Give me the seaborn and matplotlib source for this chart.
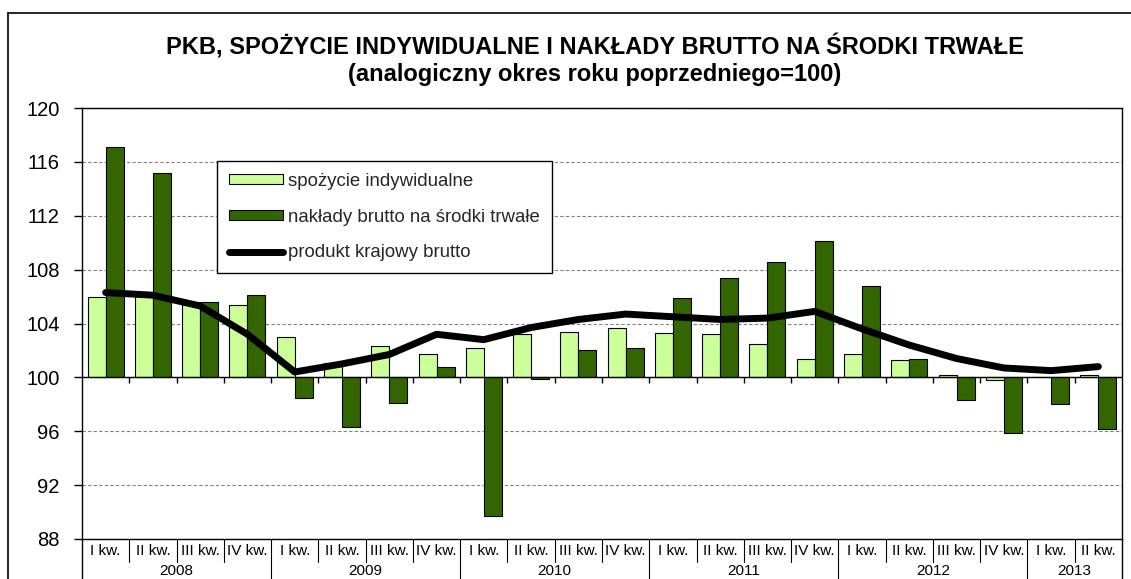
import numpy as np
import pandas as pd
import matplotlib
matplotlib.use("Agg")
import matplotlib.pyplot as plt
import seaborn as sns
from matplotlib.lines import Line2D
from matplotlib.patches import Patch

# dane (analogiczny okres roku poprzedniego = 100)
lata = ["2008", "2009", "2010", "2011", "2012", "2013"]
kwartaly = ["I kw.", "II kw.", "III kw.", "IV kw."] * 5 + ["I kw.", "II kw."]
rok_kwartalu = [r for r in lata[:5] for _ in range(4)] + ["2013", "2013"]

spozycie = [106.0, 106.1, 105.6, 105.4, 103.0, 101.1, 102.3, 101.7,
            102.2, 103.2, 103.4, 103.7, 103.3, 103.2, 102.5, 101.4,
            101.7, 101.3, 100.2, 99.8, 100.0, 100.2]
naklady = [117.1, 115.2, 105.6, 106.1, 98.5, 96.3, 98.1, 100.8,
           89.7, 99.9, 102.0, 102.2, 105.9, 107.4, 108.6, 110.1,
           106.8, 101.4, 98.3, 95.9, 98.0, 96.2]
pkb = [106.3, 106.1, 105.3, 103.2, 100.4, 101.0, 101.7, 103.2,
       102.8, 103.7, 104.3, 104.7, 104.5, 104.3, 104.4, 104.9,
       103.6, 102.4, 101.4, 100.7, 100.5, 100.8]

serie = ["spożycie indywidualne", "nakłady brutto na środki trwałe"]
nazwa_pkb = "produkt krajowy brutto"

JASNY = "#CCFF99"
CIEMNY = "#336600"
W, H = 1131, 579

n = len(kwartaly)
etykiety = [f"{r} {k}" for r, k in zip(rok_kwartalu, kwartaly)]
df = pd.DataFrame({
    "okres": etykiety * 2,
    "seria": [serie[0]] * n + [serie[1]] * n,
    "wartosc": spozycie + naklady,
})
df["odchylenie"] = df["wartosc"] - 100

sns.set_theme(style="white")
plt.rcParams["font.family"] = ["Liberation Sans", "DejaVu Sans"]

fig = plt.figure(figsize=(W / 100, H / 100), dpi=100)
ax = fig.add_axes([82 / W, 1 - 539 / H, (1122 - 82) / W, (539 - 108) / H])

sns.barplot(data=df, x="okres", y="odchylenie", hue="seria", order=etykiety,
            hue_order=serie, palette=[JASNY, CIEMNY], saturation=1,
            width=0.76, gap=0, bottom=100, edgecolor="black", linewidth=0.8,
            legend=False, ax=ax, zorder=2)

sns.lineplot(x=np.arange(n), y=pkb, color="black", linewidth=5, ax=ax,
             legend=False, zorder=4, solid_joinstyle="round",
             solid_capstyle="round")

ax.set_xlim(-0.5, n - 0.5)
ax.set_ylim(88, 120)
ax.set_yticks(np.arange(88, 121, 4))
ax.set_xticks([])
ax.set_xlabel("")
ax.set_ylabel("")
ax.tick_params(axis="y", left=True, length=6, width=1, color="black",
               pad=10, labelsize=14.5, labelcolor="black")
ax.grid(axis="y", linestyle=(0, (3, 2)), color="#808080", linewidth=0.8)
ax.set_axisbelow(True)
for s in ax.spines.values():
    s.set_color("black")
    s.set_linewidth(1)

# os kategorii przy 100
ax.axhline(100, color="black", linewidth=1, zorder=3)
ax.vlines(np.arange(0.5, n - 0.5, 1), 100 - 0.45, 100, color="black",
          linewidth=1, zorder=3)

# wiersz etykiet kwartalow i lat
tr = ax.get_xaxis_transform()
h_ax = 539 - 108
for i, k in enumerate(kwartaly):
    ax.text(i, -12 / h_ax, k, transform=tr, ha="center", va="center",
            fontsize=11, color="black")
granice_lat = [i + 0.5 for i in range(n - 1) if rok_kwartalu[i] != rok_kwartalu[i + 1]]
for b in np.arange(0.5, n - 0.5, 1):
    dol = -60 / h_ax if b in granice_lat else -23 / h_ax
    ax.plot([b, b], [0, dol], transform=tr, color="black", linewidth=0.8,
            clip_on=False)
for b in [-0.5, n - 0.5]:
    ax.plot([b, b], [0, -60 / h_ax], transform=tr, color="black",
            linewidth=1, clip_on=False)
for rok in lata:
    poz = [i for i, r in enumerate(rok_kwartalu) if r == rok]
    ax.text(np.mean(poz), -32 / h_ax, rok, transform=tr, ha="center",
            va="center", fontsize=11, color="black")

uchwyty = [Patch(facecolor=JASNY, edgecolor="black", linewidth=0.8),
           Patch(facecolor=CIEMNY, edgecolor="black", linewidth=0.8),
           Line2D([], [], color="black", linewidth=5, solid_capstyle="round")]
leg = ax.legend(uchwyty, serie + [nazwa_pkb], loc="upper left",
                bbox_to_anchor=((217 - 82) / 1040, 1 - (161 - 108) / h_ax),
                borderaxespad=0, frameon=True, fancybox=False, fontsize=13.4,
                handlelength=2.9, handleheight=0.45, handletextpad=0.27,
                labelspacing=1.0, borderpad=0.65, framealpha=1)
leg.get_frame().set_edgecolor("black")
leg.get_frame().set_linewidth(1)

# tytul
fig.text(595 / W, 1 - 47 / H,
         "PKB, SPOŻYCIE INDYWIDUALNE I NAKŁADY BRUTTO NA ŚRODKI TRWAŁE",
         ha="center", va="center", fontsize=17, fontweight="bold", color="black")
fig.text(595 / W, 1 - 75 / H, "(analogiczny okres roku poprzedniego=100)",
         ha="center", va="center", fontsize=17, fontweight="bold", color="black")

# ramka obszaru wykresu
fig.add_artist(Line2D([8 / W, 8 / W], [0, 1 - 13 / H], transform=fig.transFigure,
                      color="black", linewidth=1.2))
fig.add_artist(Line2D([8 / W, 1], [1 - 13 / H, 1 - 13 / H],
                      transform=fig.transFigure, color="black", linewidth=1.2))

fig.savefig("out.png", dpi=100)
